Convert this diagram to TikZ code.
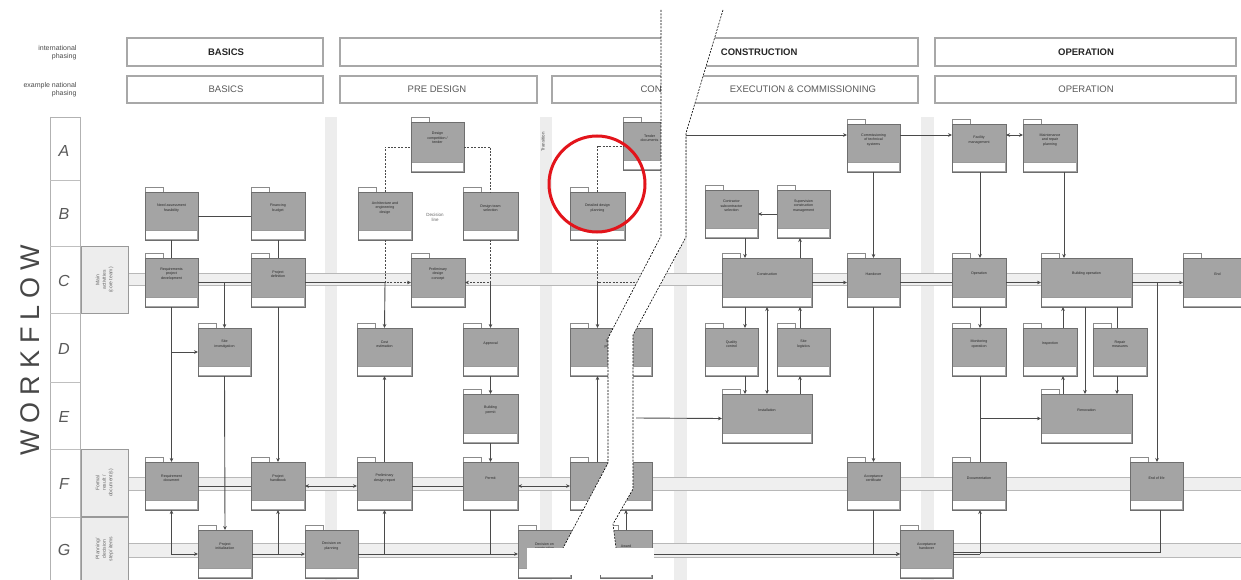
\documentclass[tikz,border=0pt]{standalone}
\usepackage{fontspec}
\setmainfont{Liberation Sans}
\setsansfont{Liberation Sans}
\usetikzlibrary{arrows.meta,calc}
\definecolor{lc}{HTML}{4A4A4A}
\definecolor{bxg}{HTML}{A4A4A4}
\definecolor{bxb}{HTML}{6E6E6E}
\definecolor{stripe}{HTML}{EDEDED}
\definecolor{bandf}{HTML}{EFEFEF}
\definecolor{bandl}{HTML}{B8B8B8}
\definecolor{hdrl}{HTML}{A8A8A8}
\definecolor{circ}{HTML}{E3141B}
\tikzset{
  wfb/.style={draw=bxb, fill=bxg, line width=0.7pt, inner sep=0pt, outer sep=0pt},
  wft/.style={font=\fontsize{3.6}{4.3}\selectfont, align=center, text=black!85, inner sep=0pt},
  ln/.style={draw=lc, line width=0.9pt},
  ar/.style={ln, -{Stealth[length=4pt,width=3.6pt]}},
  arr/.style={ln, {Stealth[length=4pt,width=3.6pt]}-{Stealth[length=4pt,width=3.6pt]}},
  dsh/.style={ln, dash pattern=on 2pt off 1.4pt},
  dsha/.style={dsh, -{Stealth[length=4pt,width=3.6pt]}},
  hdrb/.style={draw=hdrl, line width=1.2pt, fill=white, inner sep=0pt},
  hdrt1/.style={font=\fontsize{9.5}{10}\selectfont\bfseries, text=black!85},
  hdrt2/.style={font=\fontsize{9.5}{10}\selectfont, text=black!65},
  lane/.style={draw=black!40, fill=black!7, line width=0.6pt, inner sep=0pt},
  lanet/.style={rotate=90, font=\fontsize{5}{6.5}\selectfont, align=center, text=black!60},
  rowl/.style={font=\fontsize{16}{16}\selectfont\itshape, text=black!65},
  sidel/.style={font=\fontsize{7}{8}\selectfont, align=right, text=black!70, anchor=east},
}
\newcommand\wfbox[6]{%
  \node[wfb, minimum width={(#4-#2)*1pt}, minimum height={(#5-#3)*1pt}] (#1) at ({(#2+#4)/2},{(#3+#5)/2}) {};
  \fill[white] ({#2+1.2},{#5-1.2}) rectangle ({#4-1.2},{#5-10});
  \draw[bxb!70, line width=0.4pt] ({#2+1.2},{#5-10}) -- ({#4-1.2},{#5-10});
  \draw[bxb!80, line width=0.4pt] (#2,{#3-0.4}) -- (#2,{#3-5}) -- ({#2+18},{#3-5}) -- ({#2+18},{#3-0.4});
  \node[wft] (#1t) at ({(#2+#4)/2},{#3+16}) {#6};
}
\newcommand\hdrbox[6]{%
  \node[hdrb, minimum width={(#4-#2)*1pt}, minimum height={(#5-#3)*1pt}] (#1) at ({(#2+#4)/2},{(#3+#5)/2}) {};
}
\begin{document}
\begin{tikzpicture}[x=1pt,y=-1pt]
\useasboundingbox (0,0) rectangle (1241,580);
\fill[white] (0,0) rectangle (1241,580);

% column stripes
\foreach \a/\b in {325/337, 540/552, 674/687, 921/934} {
  \fill[stripe] (\a,117) rectangle (\b,580);
}
% lane bands
\foreach \a/\b in {273/285, 477/490, 543/557} {
  \fill[bandf] (128,\a) rectangle (1241,\b);
  \draw[bandl, line width=0.6pt] (128,\a) -- (1241,\a) (128,\b) -- (1241,\b);
}

% header boxes
\hdrbox{h1a}{127}{38}{323}{66}{}
\hdrbox{h1b}{340}{38}{918}{66}{}
\hdrbox{h1c}{935}{38}{1236}{66}{}
\hdrbox{h2a}{127}{76}{323}{103}{}
\hdrbox{h2b}{340}{76}{537}{103}{}
\hdrbox{h2c}{552}{76}{918}{103}{}
\hdrbox{h2d}{935}{76}{1236}{103}{}
\node[hdrt1] (t1a) at (226,52) {BASICS};
\node[hdrt1, anchor=east] (t1b) at (801,52) {CONSTRUCTION};
\node[hdrt1] (t1c) at (1086,52) {OPERATION};
\node[hdrt2] (t2a) at (226,89.5) {BASICS};
\node[hdrt2] (t2b) at (437,89.5) {PRE DESIGN};
\begin{scope}
  \clip (600,78) rectangle (660,101);
  \node[hdrt2, anchor=west] (t2c) at (637,89.5) {CONSTRUCTION};
\end{scope}
\node[hdrt2] (t2d) at (803,89.5) {EXECUTION \& COMMISSIONING};
\node[hdrt2] (t2e) at (1086,89.5) {OPERATION};
\node[sidel] (s1) at (80,53) {international\\phasing};
\node[sidel] (s2) at (80,90) {example national\\phasing};

% row frame
\draw[black!30, line width=0.5pt] (50,117) -- (50,580) (80,117) -- (80,580) (50,117) -- (80,117);
\foreach \y in {180,246,313,382,449,517} { \draw[black!25, line width=0.5pt] (50,\y) -- (80,\y); }
\node[rowl] (rA) at (64,151) {A};
\node[rowl] (rB) at (64,214) {B};
\node[rowl] (rC) at (64,281) {C};
\node[rowl] (rD) at (64,349) {D};
\node[rowl] (rE) at (64,417) {E};
\node[rowl] (rF) at (64,484) {F};
\node[rowl] (rG) at (64,550) {G};
\node[rotate=90, font=\fontsize{27}{27}\selectfont, text=black!72] (wf) at (30,350)
  {W\hspace{7pt}O\hspace{7pt}R\hspace{7pt}K\hspace{7pt}F\hspace{7pt}L\hspace{7pt}O\hspace{7pt}W};

% lane boxes
\node[lane, minimum width=47pt, minimum height=67pt] (LC) at (104.5,280) {};
\node[lanet] (LCt) at (LC.center) {Main\\activities\\(core team)};
\node[lane, minimum width=47pt, minimum height=67pt] (LF) at (104.5,483) {};
\node[lanet] (LFt) at (LF.center) {Formal\\result /\\document(s)};
\node[lane, minimum width=47pt, minimum height=64pt] (LG) at (104.5,549) {};
\node[lanet] (LGt) at (LG.center) {Planning/\\decision\\step/ items};

% small labels
\node[rotate=90, font=\fontsize{4.5}{5}\selectfont, text=black!70] (trn) at (543,142) {Transition};
\node[font=\fontsize{4.5}{5.2}\selectfont, align=center, text=black!60] (dl) at (435,217) {Decision\\line};

% ---------- boxes ----------
\wfbox{A1}{411}{122}{464}{172}{Design\\competition /\\tender}
\wfbox{A2}{623}{122}{676}{170}{Tender\\documents}
\wfbox{A3}{847}{124}{900}{172}{Commissioning\\of technical\\systems}
\wfbox{A4}{952}{124}{1006}{172}{Facility\\management}
\wfbox{A5}{1023}{124}{1077}{172}{Maintenance\\and repair\\planning}

\wfbox{B1}{145}{192}{198}{240}{Need assessment\\feasibility}
\wfbox{B2}{251}{192}{305}{240}{Financing\\budget}
\wfbox{B3}{358}{192}{412}{240}{Architecture and\\engineering\\design}
\wfbox{B4}{463}{192}{518}{240}{Design team\\selection}
\wfbox{B5}{570}{192}{625}{240}{Detailed design\\planning}
\wfbox{B6}{705}{190}{758}{238}{Contractor\\subcontractor\\selection}
\wfbox{B7}{777}{190}{830}{238}{Supervision\\construction\\management}

\wfbox{C1}{145}{258}{198}{307}{Requirements\\project\\development}
\wfbox{C2}{251}{258}{305}{307}{Project\\definition}
\wfbox{C3}{411}{258}{465}{307}{Preliminary\\design\\concept}
\wfbox{C4}{722}{258}{812}{307}{Construction}
\wfbox{C5}{847}{258}{900}{307}{Handover}
\wfbox{C6}{952}{258}{1006}{307}{Operation}
\wfbox{C7}{1041}{258}{1132}{307}{Building operation}
\wfbox{C8}{1183}{258}{1252}{307}{End}

\wfbox{D1}{198}{328}{251}{376}{Site\\investigation}
\wfbox{D2}{357}{328}{412}{376}{Cost\\estimation}
\wfbox{D3}{463}{328}{518}{376}{Approval}
\wfbox{D4}{570}{328}{652}{376}{Tender\\process}
\wfbox{D5}{705}{328}{758}{376}{Quality\\control}
\wfbox{D6}{777}{328}{830}{376}{Site\\logistics}
\wfbox{D7}{952}{328}{1006}{376}{Monitoring\\operation}
\wfbox{D8}{1023}{328}{1077}{376}{Inspection}
\wfbox{D9}{1093}{328}{1147}{376}{Repair\\measures}

\wfbox{E1}{463}{394}{518}{443}{Building\\permit}
\wfbox{E2}{722}{394}{812}{443}{Installation}
\wfbox{E3}{1041}{394}{1132}{443}{Renovation}

\wfbox{F1}{145}{462}{198}{510}{Requirement\\document}
\wfbox{F2}{251}{462}{305}{510}{Project\\handbook}
\wfbox{F3}{357}{462}{412}{510}{Preliminary\\design report}
\wfbox{F4}{463}{462}{518}{510}{Permit}
\wfbox{F5}{570}{462}{652}{510}{Contract\\documents}
\wfbox{F6}{847}{462}{900}{510}{Acceptance\\certificate}
\wfbox{F7}{952}{462}{1006}{510}{Documentation}
\wfbox{F8}{1130}{462}{1183}{510}{End of life}

\wfbox{G1}{198}{530}{252}{578}{Project\\initialization}
\wfbox{G2}{305}{530}{358}{578}{Decision on\\planning}
\wfbox{G3}{518}{530}{571}{578}{Decision on\\construction}
\wfbox{G4}{600}{530}{652}{578}{Award}
\wfbox{G5}{900}{530}{953}{578}{Acceptance\\handover}

% ---------- connectors ----------
\coordinate (tC) at (652,282.5);
\coordinate (tE) at (636,418);
\coordinate (tA) at (686,135);
\coordinate (g5b) at (953,552);

% basics
\draw[ln] (B1.east) -- (B2.west);
\draw[ln] (B1.south) -- (C1.north);
\draw[ln] (B2.south) -- (C2.north);
\draw[ln] (C1.east) -- (C2.west);
\draw[ar] (C1.east -| D1.north) -- (D1.north);
\draw[ar] (C1.south) -- (F1.north);
\draw[ar] (C1.south |- D1.west) -- (D1.west);
\draw[ar] (D1.south) -- (G1.north);
\draw[ar] (C2.south) -- (F2.north);
\draw[arr] (F1.south) |- (G1.west);
\draw[ar] (G1.east) -- (G2.west);
\draw[ar] (G1.east -| F2.south) -- (F2.south);
\draw[ln] (F1.east) -- (F2.west);
\draw[arr] (F2.east) -- (F3.west);

% pre design
\draw[ln] (C2.east) -- (B3.south |- C2.east);
\draw[dsh] (B3.north) |- (A1.west);
\draw[dsh] (A1.east) -| (B4.north);
\draw[dsha] (B3.south) |- (C3.west);
\draw[dsha] (B4.south) |- (C3.east);
\draw[ar] (B3.south |- C3.west) -- (D2.north);
\draw[ar] (B4.south |- C3.east) -- (D3.north);
\draw[ar] (F3.north) -- (D2.south);
\draw[ar] (D3.south) -- (E1.north);
\draw[ar] (E1.south) -- (F4.north);
\draw[ln] (F3.east) -- (F4.west);
\draw[arr] (F4.east) -- (F5.west);
\draw[ar] (G2.east) -- (G3.west);
\draw[ar] (G2.east -| F3.south) -- (F3.south);
\draw[ln] (F4.south) -- (F4.south |- G3.west);

% construction design
\draw[dsh] (B5.north) |- (A2.west);
\draw[dsh] (B5.south) |- (tC);
\draw[ar] (B5.south |- tC) -- (D4.north -| B5.south);
\draw[ar] (F5.north -| B5.south) -- (D4.south -| B5.south);
\draw[ar] (G4.north) -- (G4.north |- F5.south);
\draw[ln] (G3.east) -- (G4.west);

% execution
\draw[ar] (tA) -- (tA -| A3.west);
\draw[ar] (tE) -- (E2.west);
\draw[ar] (B7.west) -- (B6.east);
\draw[ar] (B6.south -| 745,0) -- (C4.north -| 745,0);
\draw[ar] (C4.north -| 800,0) -- (B7.south -| 800,0);
\draw[ar] (C4.south -| 745,0) -- (D5.north -| 745,0);
\draw[ar] (D5.south -| 745,0) -- (E2.north -| 745,0);
\draw[arr] (C4.south -| 767,0) -- (E2.north -| 767,0);
\draw[ar] (D6.north -| 800,0) -- (C4.south -| 800,0);
\draw[ar] (E2.north -| 800,0) -- (D6.south -| 800,0);
\draw[ar] (C4.east) -- (C5.west);
\draw[ar] (A3.south) -- (C5.north);
\draw[ar] (C5.south) -- (F6.north);
\draw[ar] (F6.south) |- (G5.west);
\draw[ar] (G4.east) -- (G5.west);

% operation
\draw[ar] (A3.east |- tA) -- (A4.west |- tA);
\draw[arr] (A4.east |- tA) -- (A5.west |- tA);
\draw[ar] (A4.south -| 980,0) -- (C6.north -| 980,0);
\draw[ar] (A5.south -| 1064,0) -- (C7.north -| 1064,0);
\draw[ln] (C5.east) -- (C6.west);
\draw[ar] (C6.east) -- (C7.west);
\draw[ar] (C7.east) -- (C8.west);
\draw[ar] (C7.east -| 1157,0) -- (F8.north -| 1157,0);
\draw[ar] (C6.south -| 980,0) -- (D7.north -| 980,0);
\draw[ln] (D7.south -| 980,0) -- (F7.north -| 980,0);
\draw[ar] (E3.west -| 980,0) -- (E3.west);
\draw[ar] (E3.north -| 1063,0) -- (D8.south -| 1063,0);
\draw[ar] (D8.north -| 1063,0) -- (C7.south -| 1063,0);
\draw[ar] (C7.south -| 1085,0) -- (E3.north -| 1085,0);
\draw[ln] (C7.south -| 1117,0) -- (D9.north -| 1117,0);
\draw[ar] (D9.south -| 1117,0) -- (E3.north -| 1117,0);
\draw[ln] (G5.east) -- (G5.east -| 980,0);
\draw[ar] (G5.east -| 980,0) -- (F7.south -| 980,0);
\draw[ln] (g5b) -| (F8.south -| 1160,0);

% ---------- tear ----------
\fill[white] (661,10) -- (661,236) -- (608,338) -- (608,463) -- (563,548) -- (616,548) -- (613,524) -- (633,489) -- (633,335) -- (686,237) -- (686,133) -- (723,10) -- cycle;
\draw[black, line width=0.6pt, dash pattern=on 2pt off 1.3pt] (661,10) -- (661,236) -- (608,338) -- (608,463) -- (563,548);
\draw[black, line width=0.6pt, dash pattern=on 2pt off 1.3pt] (723,10) -- (686,133) -- (686,237) -- (633,335) -- (633,489) -- (613,524) -- (616,548);
\fill[white] (527,548) rectangle (654,575);

% red circle
\draw[circ, line width=3pt] (597,184) circle[radius=48];
\end{tikzpicture}
\end{document}
